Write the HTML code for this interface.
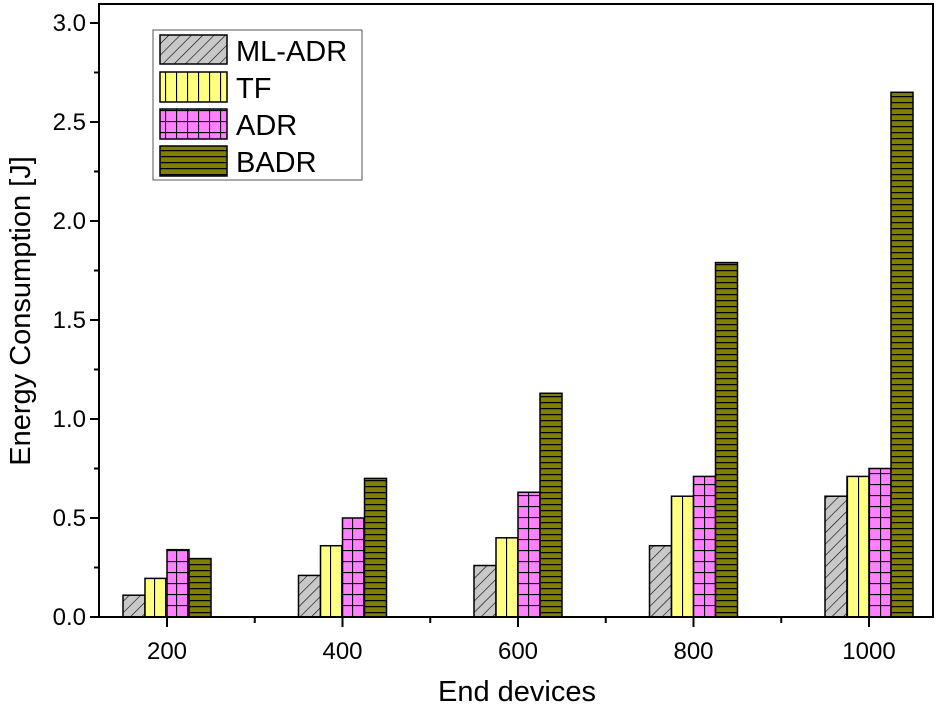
<!DOCTYPE html>
<html><head><meta charset="utf-8"><style>
body{margin:0;background:#fff;}
svg text{font-family:"Liberation Sans",Arial,sans-serif;fill:#000;}
</style></head><body>
<svg id="chart" width="941" height="708" viewBox="0 0 941 708" xmlns="http://www.w3.org/2000/svg">
<defs>
<pattern id="pDiag" width="8" height="8" patternUnits="userSpaceOnUse" patternTransform="rotate(45)">
<rect width="8" height="8" fill="#c8c8c8"/><line x1="0" y1="0" x2="0" y2="8" stroke="#000" stroke-width="1.2"/></pattern>
<pattern id="pVert" width="11" height="10" patternUnits="userSpaceOnUse">
<rect width="11" height="10" fill="#ffff80"/><line x1="0.5" y1="0" x2="0.5" y2="10" stroke="#000" stroke-width="1.2"/></pattern>
<pattern id="pGrid" width="11" height="11" patternUnits="userSpaceOnUse">
<rect width="11" height="11" fill="#ff80ff"/><path d="M0.5 0V11M0 0.5H11" stroke="#000" stroke-width="1.2"/></pattern>
<pattern id="pHor" width="10" height="6" patternUnits="userSpaceOnUse">
<rect width="10" height="6" fill="#808000"/><line x1="0" y1="0.5" x2="10" y2="0.5" stroke="#000" stroke-width="1.5"/></pattern>
</defs>
<g id="bars"></g>
<g id="axes"></g>
<g>
<rect x="153" y="30" width="209" height="150" fill="#fff" stroke="#555" stroke-width="1"/>
<rect x="160" y="35" width="67" height="29" fill="url(#pDiag)" stroke="#000" stroke-width="1.5"/>
<text x="236" y="61" font-size="29">ML-ADR</text>
<rect x="160" y="72" width="67" height="30" fill="url(#pVert)" stroke="#000" stroke-width="1.5"/>
<text x="236" y="98" font-size="29">TF</text>
<rect x="160" y="109" width="67" height="30" fill="url(#pGrid)" stroke="#000" stroke-width="1.5"/>
<text x="236" y="135" font-size="29">ADR</text>
<rect x="160" y="146" width="67" height="30" fill="url(#pHor)" stroke="#000" stroke-width="1.5"/>
<text x="236" y="172" font-size="29">BADR</text>
</g>
<text x="517" y="701" font-size="29" text-anchor="middle">End devices</text>
<text transform="translate(30,311) rotate(-90)" font-size="29" text-anchor="middle">Energy Consumption [J]</text>
</svg>
<script>
const categories = [200, 400, 600, 800, 1000];
const seriesNames = ["ML-ADR", "TF", "ADR", "BADR"];
const mlAdr = [0.11, 0.21, 0.26, 0.36, 0.61];
const tf = [0.195, 0.36, 0.40, 0.61, 0.71];
const adr = [0.34, 0.50, 0.63, 0.71, 0.75];
const badr = [0.295, 0.70, 1.13, 1.79, 2.65];
const yTicks = [0, 0.5, 1.0, 1.5, 2.0, 2.5, 3.0];
const yTickLabels = ["0.0", "0.5", "1.0", "1.5", "2.0", "2.5", "3.0"];

const NS = "http://www.w3.org/2000/svg";
const L = 99, R = 933, T = 4, B = 617;
function xScale(v){ return 167 + (v - 200) * 0.8775; }
function yScale(v){ return B - v * 198; }
const fills = ["url(#pDiag)", "url(#pVert)", "url(#pGrid)", "url(#pHor)"];
const allSeries = [mlAdr, tf, adr, badr];
const barW = 22;
const bars = document.getElementById("bars");
allSeries.forEach((s, si) => {
  s.forEach((v, ci) => {
    const r = document.createElementNS(NS, "rect");
    const x = xScale(categories[ci]) - 44 + si * barW;
    r.setAttribute("x", x);
    r.setAttribute("y", yScale(v));
    r.setAttribute("width", barW);
    r.setAttribute("height", yScale(0) - yScale(v));
    r.setAttribute("fill", fills[si]);
    r.setAttribute("stroke", "#000");
    r.setAttribute("stroke-width", "1.5");
    
    
    bars.appendChild(r);
  });
});
const axes = document.getElementById("axes");
function line(x1,y1,x2,y2,w,name){
  const l = document.createElementNS(NS,"line");
  l.setAttribute("x1",x1);l.setAttribute("y1",y1);l.setAttribute("x2",x2);l.setAttribute("y2",y2);
  l.setAttribute("stroke","#000");l.setAttribute("stroke-width",w);
  
  
  axes.appendChild(l);
}
function text(x,y,s,anchor,name){
  const t = document.createElementNS(NS,"text");
  t.setAttribute("x",x);t.setAttribute("y",y);t.setAttribute("font-size","24");t.setAttribute("text-anchor",anchor);
  t.textContent = s;
  
  
  axes.appendChild(t);
}
const frame = document.createElementNS(NS,"rect");
frame.setAttribute("x",L);frame.setAttribute("y",T);frame.setAttribute("width",R-L);frame.setAttribute("height",B-T);
frame.setAttribute("fill","none");frame.setAttribute("stroke","#000");frame.setAttribute("stroke-width","2");


axes.appendChild(frame);
yTicks.forEach((v,i)=>{
  const y = yScale(v);
  line(L-9,y,L,y,2,'y-tick');
  text(L-13,y+8,yTickLabels[i],"end",'y-tick-label');
  if(i<yTicks.length-1){ const ym = yScale(v+0.25); line(L-5,ym,L,ym,2,'y-minor-tick'); }
});
categories.forEach((c,i)=>{
  const x = xScale(c);
  line(x,B,x,B+10,2,'x-tick');
  text(x,B+42,String(c),"middle",'x-tick-label');
  if(i<categories.length-1){ const xm = xScale(c+100); line(xm,B,xm,B+6,2,'x-minor-tick'); }
});
</script>
</body></html>
